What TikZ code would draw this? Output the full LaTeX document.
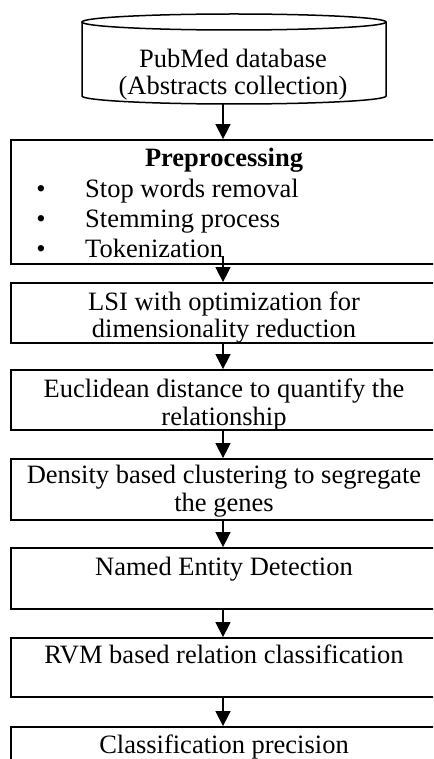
\documentclass[tikz,border=0pt]{standalone}
\usepackage{fontspec}
\setmainfont{Liberation Serif}
\usetikzlibrary{arrows.meta}
\begin{document}
\begin{tikzpicture}[x=1pt,y=-1pt,
  box/.style={draw, line width=1.8pt, minimum width=426pt, inner sep=0pt},
  txt/.style={inner sep=0pt, font=\fontsize{26.5}{27}\selectfont},
  arr/.style={line width=1.5pt, -{Triangle[width=15pt,length=15pt]}},
  cyl/.style={line width=1.5pt}]
\useasboundingbox (0,0) rectangle (433,759);
\clip (0,0) rectangle (433,759);
\fill[white] (0,0) rectangle (433,759);
% database cylinder
\node[inner sep=0pt, minimum width=304pt, minimum height=90pt] (db) at (234,59) {};
\draw[cyl] (82,22) -- (82,96) arc[start angle=180,end angle=360,x radius=152pt,y radius=8pt] -- (386,22);
\draw[cyl] (234,22) ellipse[x radius=152pt, y radius=8pt];
\node[txt, anchor=base] (db1) at (233,68) {PubMed database};
\node[txt, anchor=base] (db2) at (233,95) {(Abstracts collection)};
% boxes
\node[box, minimum height=124pt] (b1) at (224,202) {};
\node[box, minimum height=60pt] (b2) at (224,313) {};
\node[box, minimum height=60pt] (b3) at (224,400) {};
\node[box, minimum height=61pt] (b4) at (224,489.5) {};
\node[box, minimum height=61pt] (b5) at (224,578.5) {};
\node[box, minimum height=59pt] (b6) at (224,667.5) {};
\node[box, minimum height=61pt] (b7) at (224,757.5) {};
% texts
\node[txt, anchor=base, font=\fontsize{26.5}{27}\selectfont\bfseries] (p0) at (224,167) {Preprocessing};
\node[txt, anchor=base] (u1) at (41,197) {•};
\node[txt, anchor=base] (u2) at (41,227) {•};
\node[txt, anchor=base] (u3) at (41,257) {•};
\node[txt, anchor=base west] (p1) at (85,197) {Stop words removal};
\node[txt, anchor=base west] (p2) at (85,227) {Stemming process};
\node[txt, anchor=base west] (p3) at (85,257) {Tokenization};
\node[txt, anchor=base] (l1) at (224,310) {LSI with optimization for};
\node[txt, anchor=base] (l2) at (224,337) {dimensionality reduction};
\node[txt, anchor=base] (e1) at (224,397) {Euclidean distance to quantify the};
\node[txt, anchor=base] (e2) at (224,425) {relationship};
\node[txt, anchor=base] (d1) at (224,483) {Density based clustering to segregate};
\node[txt, anchor=base] (d2) at (224,511) {the genes};
\node[txt, anchor=base] (n1) at (224,575) {Named Entity Detection};
\node[txt, anchor=base] (r1) at (224,663) {RVM based relation classification};
\node[txt, anchor=base] (c1) at (224,753) {Classification precision};
% connectors
\draw[arr] ([xshift=-1pt]b1.north |- db.south) -- ([xshift=-1pt]b1.north);
\draw[arr] ([xshift=-1pt,yshift=9pt]b1.south) -- ([xshift=-1pt]b2.north);
\draw[arr] ([xshift=-1pt]b2.south) -- ([xshift=-1pt]b3.north);
\draw[arr] ([xshift=-1pt]b3.south) -- ([xshift=-1pt]b4.north);
\draw[arr] ([xshift=-1pt]b4.south) -- ([xshift=-1pt]b5.north);
\draw[arr] ([xshift=-1pt]b5.south) -- ([xshift=-1pt]b6.north);
\draw[arr] ([xshift=-1pt]b6.south) -- ([xshift=-1pt]b7.north);
\end{tikzpicture}
\end{document}
